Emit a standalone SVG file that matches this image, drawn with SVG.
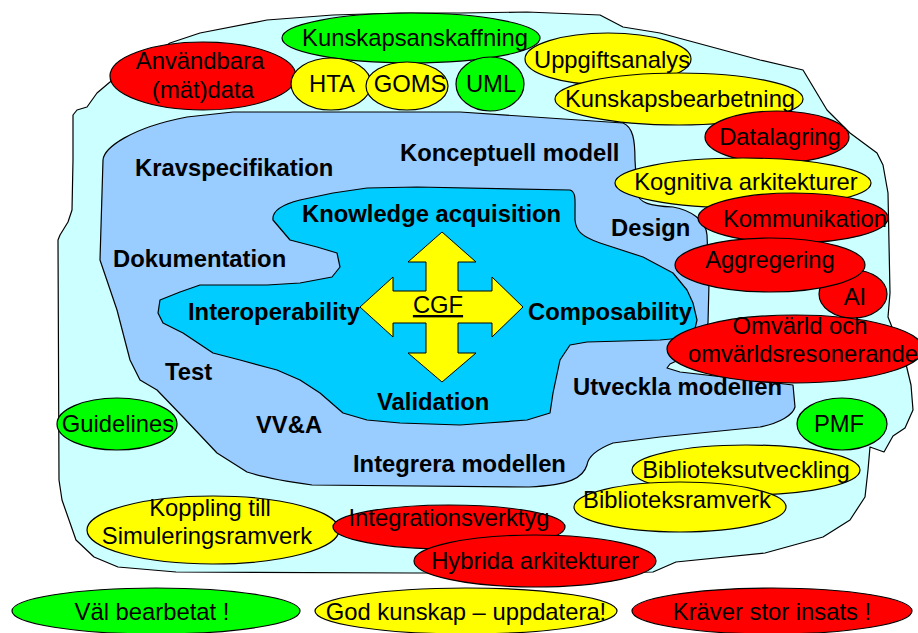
<svg xmlns="http://www.w3.org/2000/svg" width="918" height="633" viewBox="0 0 918 633">
  <style>
    .area { stroke: #000; stroke-width: 1.2; stroke-linejoin: round; }
    .outer { fill: #CCFFFF; }
    .mid { fill: #99CCFF; }
    .core { fill: #00CCFF; }
    .arrow { fill: #FFFF00; stroke: #000; stroke-width: 1; }
    .lbl { font-family: "Liberation Sans", Arial, sans-serif; font-size: 23.8px; font-weight: bold; fill: #000; }
    .txt { font-family: "Liberation Sans", Arial, sans-serif; font-size: 23.8px; fill: #000; text-anchor: middle; }
    ellipse { stroke: #000; stroke-width: 1.2; }
    .g { fill: #00FF00; }
    .y { fill: #FFFF00; }
    .r { fill: #FF0000; }
  </style>

  <!-- Outer region -->
  <path id="outer-region" class="area outer" d="M73,115 L77,110 L87,107 L97,93 L110,82 L133,67 L170,43 L200,33 L267,20 L333,15 L400,13 L460,13 L527,12 L600,15 L623,27 L660,33 L760,60 L803,70 L827,110 L850,133 L877,153 L883,165 L888,193 L890,293 L888,317 L905,360 L911,385 L913,410 L905,428 L893,436 L884,452 L870,447 L868,470 L865,497 L850,520 L823,537 L765,553 L676,562 L653,572 L600,573 L412,573 L176,572 L118,567 L94,557 L76,540 L62,500 L59,480 L58,240 L60,235 L68,222 L72,210 L73,160 Z"/>

  <!-- Development region -->
  <path id="model-region" class="area mid" d="M103,160 C104,148 130,128 187,117 L233,112 L460,112 L623,123 C633,127 635,140 635,160 L637,193 C639,203 650,206 673,207 C690,210 706,220 707,235 L709,283 L708,323 L700,350 L670,364 L667,368 L680,372 L793,385 L795,407 C793,415 780,423 760,427 L660,437 L613,443 C595,450 588,458 587,465 C583,478 570,485 529,487 L312,485 C290,482 265,478 247,472 L217,453 L183,417 L157,390 L140,380 L130,360 L117,310 L100,260 Z"/>

  <!-- Core region -->
  <path id="core-region" class="area core" d="M273,220 C272,212 280,205 300,200 L333,193 L367,188 L417,187 L570,190 C576,192 575,200 575,210 L575,220 C576,230 580,236 600,243 L643,257 L673,273 L687,290 L693,303 L697,320 L693,337 L660,340 L587,342 L570,345 L560,360 L553,393 L550,413 L527,420 L487,423 L460,425 L400,423 L367,420 L343,413 L320,393 L300,380 L277,370 L240,360 L213,353 L183,333 L163,323 L158,313 L160,300 L180,292 L200,285 L267,285 L300,283 L332,277 L340,267 L337,253 L317,247 L290,240 Z"/>

  <!-- Four-way arrow -->
  <g id="cgf">
    <polygon class="arrow" points="442,232 476,262 458,262 458,291 492,291 492,277 523,307 492,337 492,323 458,323 458,353 476,353 442,382 408,353 426,353 426,323 393,323 393,337 360,307 393,277 393,291 426,291 426,262 408,262"/>
    <text class="txt" x="438" y="313" font-size="21" text-decoration="underline">CGF</text>
  </g>

  <!-- Region labels -->
  <g id="region-labels">
    <text class="lbl" x="135" y="176">Kravspecifikation</text>
    <text class="lbl" x="400" y="161">Konceptuell modell</text>
    <text class="lbl" x="302" y="222">Knowledge acquisition</text>
    <text class="lbl" x="113" y="267">Dokumentation</text>
    <text class="lbl" x="611" y="236">Design</text>
    <text class="lbl" x="188" y="320">Interoperability</text>
    <text class="lbl" x="528" y="320">Composability</text>
    <text class="lbl" x="165" y="380">Test</text>
    <text class="lbl" x="377" y="410">Validation</text>
    <text class="lbl" x="573" y="395">Utveckla modellen</text>
    <text class="lbl" x="256" y="433">VV&amp;A</text>
    <text class="lbl" x="353" y="472">Integrera modellen</text>
  </g>

  <!-- Topic ellipses -->
  <g id="kunskapsanskaffning"><ellipse class="g" cx="411" cy="38" rx="129" ry="25"/><text class="txt" x="415" y="46">Kunskapsanskaffning</text></g>
  <g id="anvandbara-data"><ellipse class="r" cx="203" cy="76" rx="93" ry="34"/><text class="txt" x="200" y="69">Användbara</text><text class="txt" x="203" y="98">(mät)data</text></g>
  <g id="hta"><ellipse class="y" cx="331" cy="84" rx="40" ry="26"/><text class="txt" x="332" y="92">HTA</text></g>
  <g id="goms"><ellipse class="y" cx="407" cy="86" rx="41" ry="24"/><text class="txt" x="410" y="92">GOMS</text></g>
  <g id="uml"><ellipse class="g" cx="490" cy="84" rx="34" ry="27"/><text class="txt" x="491" y="92">UML</text></g>
  <g id="uppgiftsanalys"><ellipse class="y" cx="608" cy="59" rx="83" ry="26"/><text class="txt" x="612" y="68">Uppgiftsanalys</text></g>
  <g id="kunskapsbearbetning"><ellipse class="y" cx="679" cy="99" rx="124" ry="26"/><text class="txt" x="680" y="107">Kunskapsbearbetning</text></g>
  <g id="datalagring"><ellipse class="r" cx="777" cy="137" rx="72" ry="26"/><text class="txt" x="780" y="145">Datalagring</text></g>
  <g id="kognitiva"><ellipse class="y" cx="743" cy="183" rx="128" ry="25"/><text class="txt" x="746" y="190">Kognitiva arkitekturer</text></g>
  <g id="kommunikation"><ellipse class="r" cx="793" cy="218" rx="95" ry="25"/><text class="txt" x="805" y="227">Kommunikation</text></g>
  <g id="ai"><ellipse class="r" cx="853" cy="294" rx="34" ry="24"/><text class="txt" x="855" y="305">AI</text></g>
  <g id="aggregering"><ellipse class="r" cx="770" cy="265" rx="95" ry="27"/><text class="txt" x="770" y="268">Aggregering</text></g>
  <g id="omvarld"><ellipse class="r" cx="795" cy="349" rx="128" ry="34"/><text class="txt" x="800" y="334">Omvärld och</text><text class="txt" x="803" y="362">omvärldsresonerande</text></g>
  <g id="pmf"><ellipse class="g" cx="842" cy="424" rx="45" ry="26"/><text class="txt" x="839" y="432">PMF</text></g>
  <g id="guidelines"><ellipse class="g" cx="117" cy="424" rx="60" ry="26"/><text class="txt" x="118" y="432">Guidelines</text></g>
  <g id="biblioteksutveckling"><ellipse class="y" cx="746" cy="470" rx="114" ry="25"/><text class="txt" x="746" y="478">Biblioteksutveckling</text></g>
  <g id="biblioteksramverk"><ellipse class="y" cx="680" cy="507" rx="106" ry="25"/><text class="txt" x="677" y="508">Biblioteksramverk</text></g>
  <g id="koppling"><ellipse class="y" cx="213" cy="530" rx="126" ry="34"/><text class="txt" x="210" y="516">Koppling till</text><text class="txt" x="207" y="544">Simuleringsramverk</text></g>
  <g id="integrationsverktyg"><ellipse class="r" cx="449" cy="527" rx="116" ry="22"/><text class="txt" x="449" y="526">Integrationsverktyg</text></g>
  <g id="hybrida"><ellipse class="r" cx="535" cy="561" rx="121" ry="26"/><text class="txt" x="535" y="569">Hybrida arkitekturer</text></g>

  <!-- Legend -->
  <g id="legend-green"><ellipse class="g" cx="156" cy="611" rx="144" ry="23"/><text class="txt" x="152" y="620">Väl bearbetat !</text></g>
  <g id="legend-yellow"><ellipse class="y" cx="466" cy="611" rx="151" ry="23"/><text class="txt" x="466" y="620">God kunskap – uppdatera!</text></g>
  <g id="legend-red"><ellipse class="r" cx="772" cy="611" rx="140" ry="23"/><text class="txt" x="772" y="620">Kräver stor insats !</text></g>

  <!-- No connectors in this diagram -->
  <g id="connectors"/>
</svg>
